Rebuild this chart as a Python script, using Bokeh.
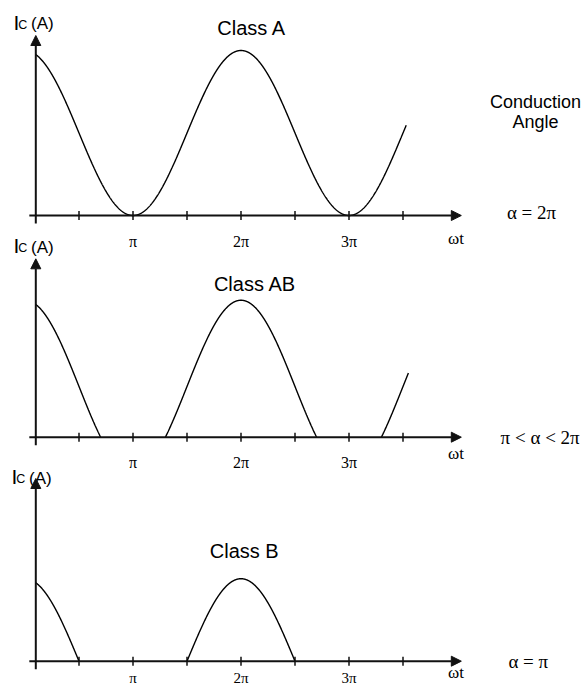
import numpy as np
from bokeh.plotting import figure
from bokeh.models import Range1d, Arrow, NormalHead
from bokeh.core.properties import value
from bokeh.embed import file_html
from bokeh.resources import INLINE

# Amplifier classes and their collector-current waveforms
class_names = ["Class A", "Class AB", "Class B"]
conduction_angle_pi = [2.0, 1.4, 1.0]      # conduction angle α, in units of π
peak_current = [1.0, 0.83, 0.5]            # peak Ic, relative to class A
trace_end_pi = [3.53, 3.55, 3.5]           # last ωt drawn for each waveform
angle_labels = ["α = 2π", "π < α < 2π", "α = π"]

# ωt axis, in units of π
trace_start_pi = 0.1
axis_start_pi, axis_end_pi = 0.04, 4.04
tick_marks = [0.5, 1.0, 1.5, 2.0, 2.5, 3.0, 3.5]
tick_label_pos = [1.0, 2.0, 3.0]
tick_labels = ["π", "2π", "3π"]

# ---- page geometry -------------------------------------------------------
W, H = 587, 688
PX_PER_PI = 108.0          # horizontal scale
X_ZERO_PX = 24.5           # where ωt = 0 falls
PX_PER_UNIT = 165.0        # vertical scale (one unit of Ic)
panel_base_px = [215.0, 436.7, 660.7]   # baseline of each panel, from top

SANS = "Liberation Sans"
SERIF = "Liberation Serif"
INK = "#111111"


def u(px):
    """pixels -> current units"""
    return px / PX_PER_UNIT


def panel_range(base_px):
    return Range1d(start=-(H - base_px) / PX_PER_UNIT, end=base_px / PX_PER_UNIT)


p = figure(
    width=W, height=H,
    x_range=Range1d(-X_ZERO_PX / PX_PER_PI, (W - X_ZERO_PX) / PX_PER_PI),
    y_range=panel_range(panel_base_px[0]),
    x_axis_type=None, y_axis_type=None,
    output_backend="svg", toolbar_location=None,
    min_border=0, outline_line_color=None,
    background_fill_color="white", border_fill_color="white",
)
range_names = ["default", "ab", "b"]
p.extra_y_ranges = {"ab": panel_range(panel_base_px[1]),
                    "b": panel_range(panel_base_px[2])}


def label(x, y, text, rng, font, size, align="center", baseline="middle", dx=0):
    p.text(x=[x], y=[y], text=[text], y_range_name=rng,
           text_font=value(font), text_font_size=value(size),
           text_align=align, text_baseline=baseline, x_offset=dx,
           text_color="black")


def waveform(alpha_pi, peak, end_pi):
    half = alpha_pi / 2.0
    wt = np.linspace(trace_start_pi, end_pi, 1600)
    edges = [2 * k + s * half for k in range(3) for s in (-1, 1)]
    edges = [e for e in edges if trace_start_pi <= e <= end_pi]
    wt = np.union1d(wt, edges)
    c0 = np.cos(np.pi * half)
    ic = peak * (np.cos(np.pi * wt) - c0) / (1.0 - c0)
    ic = np.where(ic < -1e-9, np.nan, np.maximum(ic, 0.0))
    return wt, ic


# per-panel placement (px above each baseline unless noted)
title_pos = [(2.10, 188.0), (2.13, 153.7), (2.03, 110.7)]
ic_baseline = [193.3, 191.7, 184.7]
ic_shift = [0, 0, -2]
arrow_tip = [180.0, 178.4, 182.7]
tick_label_drop = [26.0, 25.5, 16.5]
tick_label_size = ["16px", "16px", "15px"]
wt_drop = [23.0, 16.0, 11.5]
alpha_pos = [(4.69, 3.0), (4.77, 0.0), (4.66, 0.0)]

for i, rng in enumerate(range_names):
    # ωt axis with arrow
    p.add_layout(Arrow(
        end=NormalHead(size=10, fill_color=INK, line_color=INK, line_width=1),
        x_start=axis_start_pi, y_start=0, x_end=axis_end_pi, y_end=0,
        line_color=INK, line_width=2, y_range_name=rng))
    # Ic axis with arrow
    p.add_layout(Arrow(
        end=NormalHead(size=10, fill_color=INK, line_color=INK, line_width=1),
        x_start=trace_start_pi, y_start=u(-8), x_end=trace_start_pi, y_end=u(arrow_tip[i]),
        line_color=INK, line_width=2, y_range_name=rng))
    # tick marks every π/2
    p.segment(x0=tick_marks, y0=[u(-4.5)] * len(tick_marks),
              x1=tick_marks, y1=[u(4.5)] * len(tick_marks),
              line_color=INK, line_width=1.5, y_range_name=rng)
    # collector current
    wt, ic = waveform(conduction_angle_pi[i], peak_current[i], trace_end_pi[i])
    p.line(wt, ic, line_color="black", line_width=1.4, y_range_name=rng)

    # tick labels
    for xv, t in zip(tick_label_pos, tick_labels):
        label(xv, u(-tick_label_drop[i]), t, rng, SERIF, tick_label_size[i])
    label(3.99, u(-wt_drop[i]), "ωt", rng, SERIF, "17px")

    # class title
    tx, ty = title_pos[i]
    label(tx, u(ty), class_names[i], rng, SANS, "20px")

    # Ic (A) axis label
    yb = u(ic_baseline[i])
    dx = ic_shift[i]
    label(trace_start_pi, yb, "I", rng, SANS, "21px", align="left",
          baseline="alphabetic", dx=-22.3 + dx)
    label(trace_start_pi, yb - u(2.3), "C", rng, SANS, "12.5px", align="left",
          baseline="alphabetic", dx=-17.6 + dx)
    label(trace_start_pi, yb - u(1.6), "(A)", rng, SANS, "17px", align="left",
          baseline="alphabetic", dx=-4.8 + dx)

    # conduction angle
    ax, ay = alpha_pos[i]
    label(ax, u(ay), angle_labels[i], rng, SERIF, "19px")

label(4.727, u(113.5), "Conduction", "default", SANS, "18px")
label(4.727, u(93.5), "Angle", "default", SANS, "18px")

open("out.html", "w").write(file_html(p, INLINE))
